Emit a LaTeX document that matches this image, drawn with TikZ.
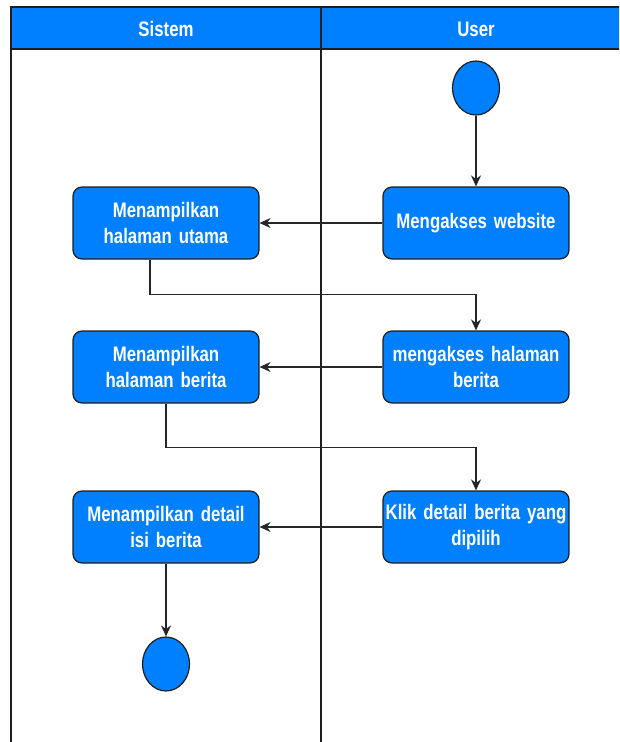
\documentclass[tikz,border=0pt]{standalone}
\usepackage{fontspec}
\newfontfamily\lanefont[FakeStretch=0.8]{Liberation Sans}
\usepackage{tikz}
\usetikzlibrary{shapes.geometric, arrows.meta, positioning, calc}
\definecolor{actblue}{RGB}{0, 127, 255}
\definecolor{edgegray}{RGB}{30, 30, 30}

\tikzset{
  act/.style={rectangle, draw=edgegray, fill=actblue, rounded corners=9pt, line width=1.2pt,
    minimum width=186pt, minimum height=72pt, text width=182pt, align=center, inner sep=0pt,
    font=\lanefont\bfseries\fontsize{21}{26}\selectfont, text=white},
  dot/.style={ellipse, draw=edgegray, fill=actblue, line width=1.2pt,
    minimum width=47pt, minimum height=54pt, inner sep=0pt},
  flow/.style={draw=black!85, line width=1.1pt, -{Stealth[length=11pt,width=10pt]}},
  lanehead/.style={font=\lanefont\bfseries\fontsize{21}{24}\selectfont, text=white}
}

\begin{document}
\begin{tikzpicture}[x=1pt, y=-1pt]
    \useasboundingbox (0,0) rectangle (619,742);
    % Swimlanes
    \begin{scope}
    \clip (0,0) rectangle (619,742);
    \draw[draw=edgegray, fill=actblue, line width=1.5pt] (11,7) rectangle (640,49);
    \draw[edgegray, line width=1.5pt] (11,49) -- (11,745);
    \draw[edgegray, line width=1.5pt] (321,7) -- (321,745);
    \end{scope}
    \node (sistem) [lanehead] at (166,29) {Sistem};
    \node (user) [lanehead] at (476,29) {User};

    % Activities
    \node (start) [dot] at (476,88) {};
    \node (akses) [act] at (476,223) {Mengakses website};
    \node (utama) [act] at (166,223) {Menampilkan\\halaman utama};
    \node (akses2) [act] at (476,367) {mengakses halaman\\berita};
    \node (berita) [act] at (166,367) {Menampilkan\\halaman berita};
    \node (klik) [act] at (476,527) {Klik detail berita yang\\dipilih};
    \node (detail) [act] at (166,527) {Menampilkan detail\\isi berita};
    \node (stop) [dot] at (166,664) {};

    \draw[flow] (start) -- (akses);
    \draw[flow] (akses) -- (utama);
    \draw[flow] ([xshift=-16pt]utama.south) -- ++(0,35) -| (akses2.north);
    \draw[flow] (akses2) -- (berita);
    \draw[flow] (berita.south) -- ++(0,44) -| (klik.north);
    \draw[flow] (klik) -- (detail);
    \draw[flow] (detail) -- (stop);
\end{tikzpicture}
\end{document}
